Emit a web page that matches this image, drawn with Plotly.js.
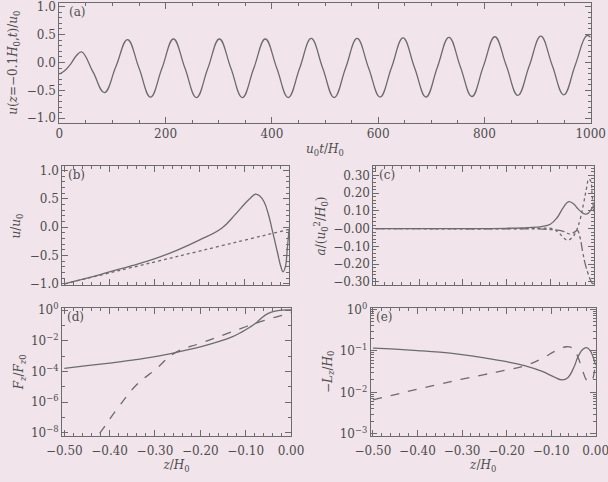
<!DOCTYPE html>
<html>
<head>
<meta charset="utf-8">
<script src="https://cdn.plot.ly/plotly-3.0.1.min.js"></script>
<style>html,body{margin:0;padding:0;background:#f1e4eb;}</style>
</head>
<body>
<div id="chart" style="width:608px;height:482px;"></div>
<script>
// ---- Panel (a): u(z=-0.1H0,t)/u0 vs u0 t/H0 ----
const tA = [0, 10, 22, 32, 42, 63.5, 85, 106.7, 128.4, 150, 171.6, 193.2, 214.8, 236.4, 258, 279.6, 301.2, 322.8, 344.4, 366, 387.6, 409.2, 430.8, 452.4, 474, 495.6, 517.2, 538.8, 560.4, 582, 603.6, 625.2, 646.8, 668.4, 690, 711.6, 733.2, 754.8, 776.4, 798, 819.6, 841.2, 862.8, 884.4, 906, 927.6, 949.2, 970.8, 992.4, 1000];
const uA = [-0.21, -0.15, -0.02, 0.12, 0.19, -0.17, -0.54, -0.07, 0.41, -0.10, -0.62, -0.105, 0.42, -0.10, -0.63, -0.105, 0.42, -0.10, -0.63, -0.105, 0.42, -0.10, -0.63, -0.10, 0.43, -0.10, -0.63, -0.10, 0.43, -0.10, -0.62, -0.09, 0.44, -0.09, -0.62, -0.08, 0.45, -0.08, -0.61, -0.07, 0.46, -0.06, -0.59, -0.06, 0.47, -0.055, -0.58, -0.05, 0.48, 0.45];

// ---- Panel (b): u/u0 vs z/H0 ----
const zB = [-0.5, -0.45, -0.4, -0.35, -0.3, -0.25, -0.2, -0.15, -0.12, -0.1, -0.085, -0.075, -0.065, -0.055, -0.045, -0.038, -0.03, -0.025, -0.018, -0.013, -0.008, -0.004, 0];
const uB = [-1.0, -0.9, -0.79, -0.68, -0.56, -0.41, -0.23, -0.02, 0.22, 0.40, 0.52, 0.58, 0.55, 0.44, 0.20, -0.03, -0.30, -0.47, -0.70, -0.79, -0.70, -0.40, -0.05];
const zBdot = [-0.5, -0.25, 0];
const uBdot = [-1.0, -0.52, -0.04];

// ---- Panel (c): a/(u0^2/H0) vs z/H0 ----
const zCs = [-0.5, -0.3, -0.2, -0.15, -0.12, -0.1, -0.085, -0.07, -0.058, -0.047, -0.036, -0.026, -0.019, -0.012, -0.006, 0];
const aCs = [0, 0, 0.002, 0.006, 0.012, 0.025, 0.06, 0.12, 0.152, 0.14, 0.11, 0.088, 0.082, 0.09, 0.11, 0.13];
const zCdot = [-0.5, -0.2, -0.12, -0.095, -0.08, -0.068, -0.06, -0.05, -0.042, -0.032, -0.024, -0.017, -0.012, -0.008, -0.004, 0];
const aCdot = [0, 0, 0.002, 0.0, -0.025, -0.055, -0.065, -0.05, -0.02, 0.05, 0.14, 0.23, 0.28, 0.27, 0.18, 0.08];
const zCdd = [-0.5, -0.25, -0.1, -0.07, -0.055, -0.045, -0.038, -0.032, -0.026, -0.02, -0.014, -0.008, -0.003, 0];
const aCdd = [0, -0.001, -0.005, -0.015, -0.03, -0.02, -0.01, -0.05, -0.13, -0.2, -0.25, -0.29, -0.31, -0.30];

// ---- Panel (d): Fz/Fz0 vs z/H0 ----
const zDs = [-0.5, -0.45, -0.4, -0.35, -0.3, -0.255, -0.2, -0.16, -0.13, -0.108, -0.09, -0.078, -0.065, -0.05, -0.035, -0.02, 0];
const fDs = [1.58e-4, 2.4e-4, 3.55e-4, 5.5e-4, 9.3e-4, 1.7e-3, 4.0e-3, 8.7e-3, 0.0178, 0.038, 0.079, 0.138, 0.30, 0.60, 0.85, 0.98, 1.0];
const zDd = [-0.445, -0.42, -0.38, -0.34, -0.3, -0.255, -0.2, -0.15, -0.1, -0.05, -0.02, 0];
const fDd = [1e-9, 1.12e-8, 5.0e-7, 1.41e-5, 1.26e-4, 1.7e-3, 6.8e-3, 0.0234, 0.0813, 0.251, 0.447, 0.708];

// ---- Panel (e): -Lz/H0 vs z/H0 ----
const zEs = [-0.5, -0.45, -0.4, -0.35, -0.3, -0.25, -0.2, -0.16, -0.12, -0.095, -0.075, -0.062, -0.05, -0.04, -0.03, -0.02, -0.012, -0.006, 0];
const lEs = [0.117, 0.110, 0.102, 0.093, 0.081, 0.068, 0.055, 0.044, 0.032, 0.024, 0.020, 0.023, 0.038, 0.071, 0.107, 0.120, 0.100, 0.071, 0.045];
const zEd = [-0.5, -0.45, -0.4, -0.35, -0.3, -0.25, -0.2, -0.16, -0.12, -0.09, -0.065, -0.05, -0.04, -0.03, -0.022, -0.015, -0.008, -0.003, 0];
const lEd = [0.0066, 0.0089, 0.012, 0.0158, 0.0209, 0.0269, 0.0347, 0.0437, 0.066, 0.1, 0.126, 0.112, 0.071, 0.0355, 0.0209, 0.0178, 0.02, 0.0316, 0.0447];

// ---- tick labels ----
const tickA_x = [0, 200, 400, 600, 800, 1000];
const tickA_xt = ["0", "200", "400", "600", "800", "1000"];
const tickAB_y = [-1, -0.5, 0, 0.5, 1];
const tickAB_yt = ["\u22121.0", "\u22120.5", "0.0", "0.5", "1.0"];
const tickC_y = [-0.3, -0.2, -0.1, 0, 0.1, 0.2, 0.3];
const tickC_yt = ["\u22120.30", "\u22120.20", "\u22120.10", "\u22120.00", "0.10", "0.20", "0.30"];
const tickZ = [-0.5, -0.4, -0.3, -0.2, -0.1, 0];
const tickZt = ["\u22120.50", "\u22120.40", "\u22120.30", "\u22120.20", "\u22120.10", "0.00"];
const tickD_y = [1, 1e-2, 1e-4, 1e-6, 1e-8];
const tickD_yt = ["10<sup>0</sup>", "10<sup>\u22122</sup>", "10<sup>\u22124</sup>", "10<sup>\u22126</sup>", "10<sup>\u22128</sup>"];
const tickE_y = [1, 0.1, 0.01, 0.001];
const tickE_yt = ["10<sup>0</sup>", "10<sup>\u22121</sup>", "10<sup>\u22122</sup>", "10<sup>\u22123</sup>"];

const LC = '#6c6c6c';
const line = (dash) => ({color: LC, width: 1.3, dash: dash, shape: 'spline', smoothing: 1.2});

const traces = [
  {x: tA, y: uA, xaxis: 'x', yaxis: 'y', mode: 'lines', line: line('solid')},
  {x: zB, y: uB, xaxis: 'x2', yaxis: 'y2', mode: 'lines', line: line('solid')},
  {x: zBdot, y: uBdot, xaxis: 'x2', yaxis: 'y2', mode: 'lines', line: line('dot')},
  {x: zCs, y: aCs, xaxis: 'x3', yaxis: 'y3', mode: 'lines', line: line('solid')},
  {x: zCdot, y: aCdot, xaxis: 'x3', yaxis: 'y3', mode: 'lines', line: line('dot')},
  {x: zCdd, y: aCdd, xaxis: 'x3', yaxis: 'y3', mode: 'lines', line: line('dashdot')},
  {x: zDs, y: fDs, xaxis: 'x4', yaxis: 'y4', mode: 'lines', line: line('solid')},
  {x: zDd, y: fDd, xaxis: 'x4', yaxis: 'y4', mode: 'lines', line: line('dash')},
  {x: zEs, y: lEs, xaxis: 'x5', yaxis: 'y5', mode: 'lines', line: line('solid')},
  {x: zEd, y: lEd, xaxis: 'x5', yaxis: 'y5', mode: 'lines', line: line('dash')}
];

const base = {
  showline: true, linecolor: LC, linewidth: 1, mirror: 'ticks',
  ticks: 'inside', ticklen: 6, tickcolor: LC, tickwidth: 1,
  showgrid: false, zeroline: false, automargin: false,
  tickfont: {size: 12}, tickmode: 'array', ticklabeloverflow: 'allow'
};
function ax(extra) { return Object.assign({}, base, extra); }
const zRange = [-0.505, 0.0];
const minorZ = {ticks: 'inside', ticklen: 3, dtick: 0.02, tickcolor: LC};

const layout = {
  width: 608, height: 482,
  margin: {l: 0, r: 0, t: 0, b: 0},
  paper_bgcolor: '#f1e4eb', plot_bgcolor: '#f1e4eb',
  font: {family: 'DejaVu Serif', size: 12, color: '#4d4d4d'},
  showlegend: false,
  xaxis: ax({domain: [0.0975, 0.9716], anchor: 'y', range: [0, 1000], tickvals: tickA_x, ticktext: tickA_xt,
    minor: {ticks: 'inside', ticklen: 3, dtick: 50, tickcolor: LC},
    title: {text: '<i>u</i><sub>0</sub><i>t</i>/<i>H</i><sub>0</sub>', font: {size: 12}, standoff: 4}}),
  yaxis: ax({domain: [0.7454, 0.9944], anchor: 'x', range: [-1.08, 1.07], tickvals: tickAB_y, ticktext: tickAB_yt,
    minor: {ticks: 'inside', ticklen: 3, dtick: 0.1, tickcolor: LC},
    title: {text: '<i>u</i>(<i>z</i>=\u22120.1<i>H</i><sub>0</sub>,<i>t</i>)/<i>u</i><sub>0</sub>', font: {size: 12}, standoff: 6}}),
  xaxis2: ax({domain: [0.1025, 0.4753], anchor: 'y2', range: zRange, tickvals: tickZ, ticktext: tickZt, showticklabels: false, minor: minorZ}),
  yaxis2: ax({domain: [0.4077, 0.6546], anchor: 'x2', range: [-1.03, 1.07], tickvals: tickAB_y, ticktext: tickAB_yt,
    minor: {ticks: 'inside', ticklen: 3, dtick: 0.1, tickcolor: LC},
    title: {text: '<i>u</i>/<i>u</i><sub>0</sub>', font: {size: 12}, standoff: 6}}),
  xaxis3: ax({domain: [0.614, 0.977], anchor: 'y3', range: zRange, tickvals: tickZ, ticktext: tickZt, showticklabels: false, minor: minorZ}),
  yaxis3: ax({domain: [0.4077, 0.6546], anchor: 'x3', range: [-0.32, 0.35], tickvals: tickC_y, ticktext: tickC_yt,
    minor: {ticks: 'inside', ticklen: 3, dtick: 0.02, tickcolor: LC},
    title: {text: '<i>a</i>/(<i>u</i><sub>0</sub><sup>2</sup>/<i>H</i><sub>0</sub>)', font: {size: 12}, standoff: 4}}),
  xaxis4: ax({domain: [0.102, 0.4786], anchor: 'y4', range: zRange, tickvals: tickZ, ticktext: tickZt, minor: minorZ,
    ticklabelstandoff: 4,
    title: {text: '<i>z</i>/<i>H</i><sub>0</sub>', font: {size: 12}, standoff: 1}}),
  yaxis4: ax({domain: [0.0954, 0.3616], anchor: 'x4', type: 'log', range: [-8.2, 0.15], tickvals: tickD_y, ticktext: tickD_yt,
    minor: {ticks: 'inside', ticklen: 3, dtick: 1, tickcolor: LC},
    title: {text: '<i>F</i><sub><i>z</i></sub>/<i>F</i><sub><i>z</i>0</sub>', font: {size: 12}, standoff: 4}}),
  xaxis5: ax({domain: [0.6097, 0.9798], anchor: 'y5', range: zRange, tickvals: tickZ, ticktext: tickZt, minor: minorZ,
    ticklabelstandoff: 4,
    title: {text: '<i>z</i>/<i>H</i><sub>0</sub>', font: {size: 12}, standoff: 1}}),
  yaxis5: ax({domain: [0.0954, 0.3616], anchor: 'x5', type: 'log', range: [-3.05, 0.04], tickvals: tickE_y, ticktext: tickE_yt,
    minor: {ticks: 'inside', ticklen: 3, dtick: 'D1', tickcolor: LC},
    title: {text: '\u2212<i>L</i><sub><i>z</i></sub>/<i>H</i><sub>0</sub>', font: {size: 12}, standoff: 4}}),
  annotations: [
    ['(a)', 'x', 'y'], ['(b)', 'x2', 'y2'], ['(c)', 'x3', 'y3'], ['(d)', 'x4', 'y4'], ['(e)', 'x5', 'y5']
  ].map(a => ({text: a[0], xref: a[1] + ' domain', yref: a[2] + ' domain', x: 0.015, y: 1.0,
    xanchor: 'left', yanchor: 'top', showarrow: false, font: {size: 12}}))
};

Plotly.newPlot('chart', traces, layout, {displayModeBar: false, staticPlot: true});
</script>
</body>
</html>
